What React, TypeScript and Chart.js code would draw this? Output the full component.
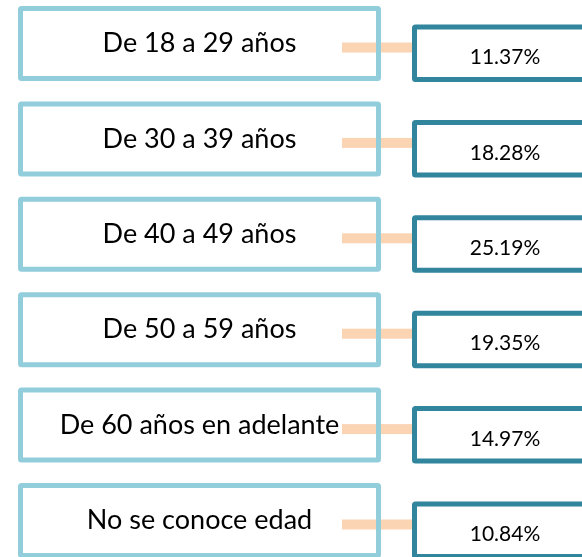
import { useEffect, useRef } from 'react';
import { Chart, registerables } from 'chart.js';

Chart.register(...registerables);

// ---- data ----
const categories = [
  'De 18 a 29 años',
  'De 30 a 39 años',
  'De 40 a 49 años',
  'De 50 a 59 años',
  'De 60 años en adelante',
  'No se conoce edad',
];
const percentages = [11.37, 18.28, 25.19, 19.35, 14.97, 10.84];

// ---- styles ----
const LIGHT = '#92CDDC';
const DARK = '#31859C';
const PEACH = '#FBD4B4';
const FONT = 'Lato, "Open Sans", sans-serif';

const boxesPlugin = {
  id: 'ageBoxes',
  afterDatasetsDraw(chart: any) {
    const { ctx } = chart;
    const yScale = chart.scales.y;
    const labels = chart.data.labels as string[];
    const values = chart.data.datasets[0].data as number[];
    const W = chart.width;
    ctx.save();
    labels.forEach((label, i) => {
      const c = yScale.getPixelForValue(i);
      // left box geometry (stroke centre line)
      const lx = 20.5, lw = 358, lt = c - 35, lh = 70;
      // right box geometry
      const rx = 414.5, rw = W + 20 - rx, rt = c - 16.5, rh = 52.5;

      ctx.fillStyle = '#ffffff';
      ctx.fillRect(lx, lt, lw, lh);
      ctx.fillRect(rx, rt, rw, rh);

      // connector
      ctx.fillStyle = PEACH;
      ctx.fillRect(342, c - 1, 70, 10);

      ctx.lineWidth = 5;
      ctx.lineJoin = 'round';
      ctx.strokeStyle = LIGHT;
      ctx.beginPath();
      ctx.roundRect(lx, lt, lw, lh, 1);
      ctx.stroke();

      ctx.strokeStyle = DARK;
      ctx.beginPath();
      ctx.roundRect(rx, rt, rw, rh, 1);
      ctx.stroke();

      // texts
      ctx.fillStyle = '#000000';
      ctx.textAlign = 'center';
      ctx.textBaseline = 'alphabetic';
      ctx.font = `27px ${FONT}`;
      ctx.fillText(label, 199.5, c - 1 + 9.7);
      ctx.font = `21px ${FONT}`;
      ctx.fillText(values[i].toFixed(2) + '%', 505, c + 13 + 7.6);
    });
    ctx.restore();
  },
};

export default function App() {
  const ref = useRef<HTMLCanvasElement | null>(null);

  useEffect(() => {
    document.body.style.margin = '0';
    const canvas = ref.current;
    if (!canvas) return;
    const chart = new Chart(canvas, {
      type: 'bar',
      data: {
        labels: categories,
        datasets: [
          {
            label: 'Porcentaje',
            data: percentages,
            backgroundColor: 'rgba(0,0,0,0)',
            borderWidth: 0,
          },
        ],
      },
      options: {
        indexAxis: 'y',
        responsive: false,
        animation: false,
        devicePixelRatio: 1,
        layout: { padding: { top: 43.5, bottom: 36.5, left: 0, right: 0 } },
        scales: {
          x: { display: false, min: 0, max: 30 },
          y: { display: false, offset: false },
        },
        plugins: {
          legend: { display: false },
          tooltip: { enabled: false },
        },
      },
      plugins: [boxesPlugin],
    });
    return () => chart.destroy();
  }, []);

  return (
    <div style={{ position: 'fixed', left: 0, top: 0, width: 582, height: 557, background: '#fff' }}>
      <canvas ref={ref} width={582} height={557} />
    </div>
  );
}
